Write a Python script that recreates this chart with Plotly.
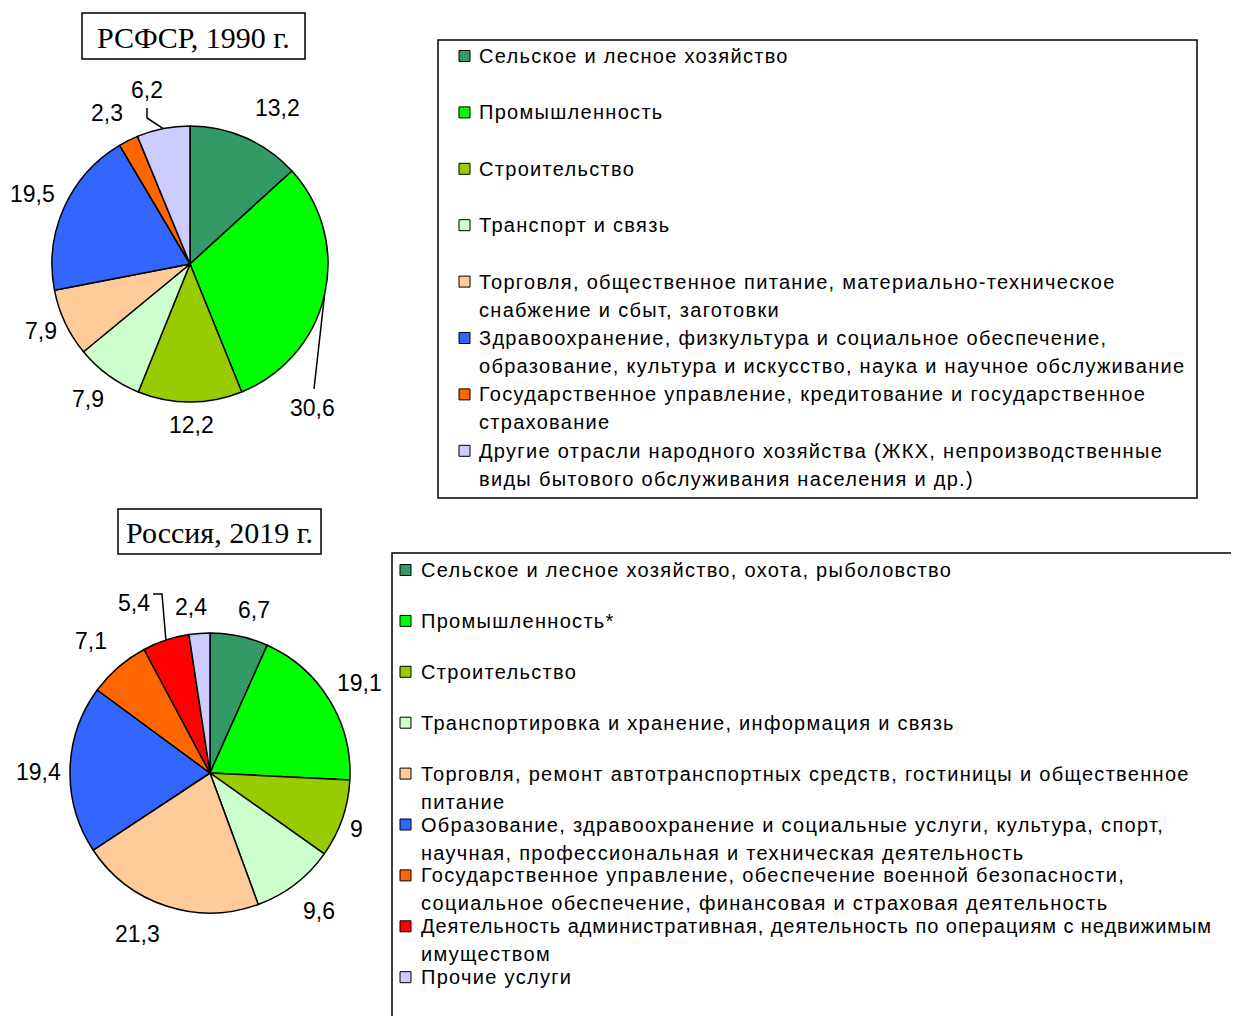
import math
import plotly.graph_objects as go

# ---------------- data ----------------
cats_1990 = [
    "Сельское и лесное хозяйство",
    "Промышленность",
    "Строительство",
    "Транспорт и связь",
    "Торговля, общественное питание, материально-техническое<br>снабжение и сбыт, заготовки",
    "Здравоохранение, физкультура и социальное обеспечение,<br>образование, культура и искусство, наука и научное обслуживание",
    "Государственное управление, кредитование и государственное<br>страхование",
    "Другие отрасли народного хозяйства (ЖКХ, непроизводственные<br>виды бытового обслуживания населения и др.)",
]
vals_1990 = [13.2, 30.6, 12.2, 7.9, 7.9, 19.5, 2.3, 6.2]

cats_2019 = [
    "Сельское и лесное хозяйство, охота, рыболовство",
    "Промышленность*",
    "Строительство",
    "Транспортировка и хранение, информация и связь",
    "Торговля, ремонт автотранспортных средств, гостиницы и общественное<br>питание",
    "Образование, здравоохранение и социальные услуги, культура, спорт,<br>научная, профессиональная и техническая деятельность",
    "Государственное управление, обеспечение военной безопасности,<br>социальное обеспечение, финансовая и страховая деятельность",
    "Деятельность административная, деятельность по операциям с недвижимым<br>имуществом",
    "Прочие услуги",
]
vals_2019 = [6.7, 19.1, 9.0, 9.6, 21.3, 19.4, 7.1, 5.4, 2.4]

title_1990 = "РСФСР, 1990 г."
title_2019 = "Россия, 2019 г."

colors_1990 = ["#339966", "#00FF00", "#99CC00", "#CCFFCC", "#FFCC99", "#3366FF", "#FF6600", "#CCCCFF"]
colors_2019 = ["#339966", "#00FF00", "#99CC00", "#CCFFCC", "#FFCC99", "#3366FF", "#FF6600", "#FF0000", "#CCCCFF"]

# ---------------- layout helpers ----------------
W, H = 1239, 1016
OFF = 8  # page body margin
FW, FH = W - OFF, H - OFF
SANS = "Liberation Sans, Arial, sans-serif"
SERIF = "Liberation Serif, Times New Roman, serif"


def px(x):
    return (x - OFF) / FW


def py(y):
    return 1 - (y - OFF) / FH


def fmt(v):
    return ("%g" % v).replace(".", ",")


def mid_angles(vals):
    tot = sum(vals)
    out, cum = [], 0.0
    for v in vals:
        out.append((cum + v / 2) / tot * 2 * math.pi)
        cum += v
    return out


def polar(cx, cy, d, th):
    return cx + d * math.sin(th), cy - d * math.cos(th)


fig = go.Figure()
shapes, annos = [], []

pies = [
    dict(cats=cats_1990, vals=vals_1990, colors=colors_1990, cx=190, cy=264, r=138,
         title=title_1990, tbox=(82, 13, 305, 59),
         lbox=(438, 40, 1197, 498), sw_x=459, tx=477, y0=56, step=56.4,
         offs={0: (19, 0), 1: (-43, 106), 2: (1, -9), 3: (-1, -2), 4: (5, -6), 5: (-2, 0),
               6: (-7, 1), 7: (-10, -7)}),
    dict(cats=cats_2019, vals=vals_2019, colors=colors_2019, cx=210, cy=773, r=140,
         title=title_2019, tbox=(118, 509, 321, 554),
         lbox=(392, 553, 1252, 1030), sw_x=400, tx=419, y0=570, step=50.9,
         offs={0: (8, 5), 1: (3, 0), 2: (-16, 0), 3: (4, 1), 4: (-19, -2), 5: (0, 3),
               6: (-6, -2), 7: (-22, -7), 8: (-6, 6)}),
]

for p in pies:
    cx, cy, r = p["cx"], p["cy"], p["r"]
    fig.add_trace(go.Pie(
        labels=[c.replace("<br>", " ") for c in p["cats"]],
        values=p["vals"],
        marker=dict(colors=p["colors"], line=dict(color="black", width=1.5)),
        sort=False, direction="clockwise", rotation=0,
        textinfo="none", showlegend=False,
        domain=dict(x=[px(cx - r), px(cx + r)], y=[py(cy + r), py(cy - r)]),
        hoverinfo="label+value",
    ))
    # value labels
    angs = mid_angles(p["vals"])
    for i, (v, th) in enumerate(zip(p["vals"], angs)):
        lx, ly = polar(cx, cy, r + 32, th)
        dx, dy = p["offs"].get(i, (0, 0))
        annos.append(dict(x=px(lx + dx), y=py(ly + dy), xref="paper", yref="paper",
                          text=fmt(v), showarrow=False, xanchor="center", yanchor="middle",
                          font=dict(family=SANS, size=23, color="black")))
    # title box
    x0, y0, x1, y1 = p["tbox"]
    shapes.append(dict(type="rect", xref="paper", yref="paper", x0=px(x0), x1=px(x1),
                       y0=py(y1), y1=py(y0), line=dict(color="black", width=1.5),
                       fillcolor="white"))
    annos.append(dict(x=px((x0 + x1) / 2), y=py((y0 + y1) / 2 + 1), xref="paper", yref="paper",
                      text=p["title"], showarrow=False, xanchor="center", yanchor="middle",
                      font=dict(family=SERIF, size=30, color="black")))
    # legend box
    x0, y0, x1, y1 = p["lbox"]
    shapes.append(dict(type="rect", xref="paper", yref="paper", x0=px(x0), x1=px(x1),
                       y0=py(y1), y1=py(y0), line=dict(color="black", width=1.5)))
    for i, (c, col) in enumerate(zip(p["cats"], p["colors"])):
        yc = p["y0"] + i * p["step"]
        s = 5.5
        shapes.append(dict(type="rect", xref="paper", yref="paper",
                           x0=px(p["sw_x"]), x1=px(p["sw_x"] + 2 * s),
                           y0=py(yc + s), y1=py(yc - s),
                           line=dict(color="black", width=1), fillcolor=col))
        for j, line in enumerate(c.split("<br>")):
            ls = 0.95 if len(line) > 68 else 1.3
            annos.append(dict(x=px(p["tx"]), y=py(yc + 28 * j), xref="paper", yref="paper",
                              text=f'<span style="letter-spacing:{ls}px">' + line + '</span>',
                              showarrow=False, xanchor="left", yanchor="middle",
                              font=dict(family=SANS, size=20, color="black")))

# leader lines
a1 = mid_angles(vals_1990)
a2 = mid_angles(vals_2019)
ex, ey = polar(190, 264, 138, a1[1])
shapes.append(dict(type="line", xref="paper", yref="paper", x0=px(ex), y0=py(ey),
                   x1=px(314), y1=py(389), line=dict(color="black", width=1.5)))
ex, ey = polar(190, 264, 138, a1[7])
shapes.append(dict(type="path", xref="paper", yref="paper",
                   path=f"M {px(ex)},{py(ey)} L {px(147)},{py(118)} L {px(147)},{py(108)}",
                   line=dict(color="black", width=1.5)))
ex, ey = polar(210, 773, 140, a2[7])
shapes.append(dict(type="path", xref="paper", yref="paper",
                   path=f"M {px(ex)},{py(ey)} L {px(162)},{py(594)} L {px(153)},{py(594)}",
                   line=dict(color="black", width=1.5)))

fig.update_layout(
    width=FW, height=FH, autosize=False,
    margin=dict(l=0, r=0, t=0, b=0),
    paper_bgcolor="white", plot_bgcolor="white",
    shapes=shapes, annotations=annos,
    showlegend=False,
)
fig.write_html("out.html")
